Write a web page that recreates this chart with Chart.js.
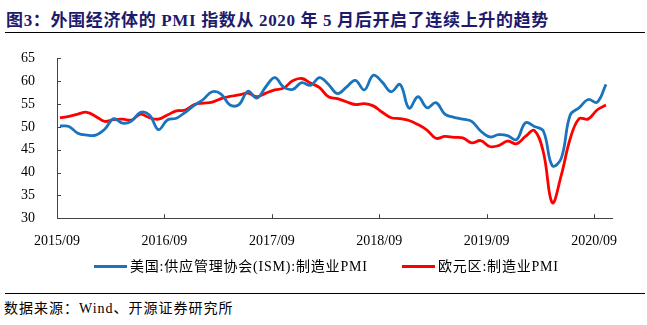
<!DOCTYPE html>
<html>
<head>
<meta charset="utf-8">
<script src="https://cdn.jsdelivr.net/npm/chart.js@4.4.0/dist/chart.umd.min.js"></script>
<style>
    body { margin: 0; background: #fff; width: 647px; height: 325px; position: relative; overflow: hidden; }
    .title { position: absolute; left: 6px; top: 6px; font: bold 17px 'Liberation Serif', 'Noto Sans CJK SC', serif; letter-spacing: 0.65px; color: #1d1a6b; white-space: nowrap; }
    .rule { position: absolute; left: 5px; width: 640px; height: 0; border-top: 1.5px solid #000; }
    .source { position: absolute; left: 4px; top: 297px; font: 14px 'Liberation Serif', 'Noto Sans CJK SC', serif; letter-spacing: 1px; color: #000; white-space: nowrap; }
    .chart-box { position: absolute; left: 0; top: 36px; width: 647px; height: 229px; }
    .legend { position: absolute; top: 258px; font: 14px 'Liberation Serif', 'Noto Sans CJK SC', serif; letter-spacing: 0.8px; color: #000; white-space: nowrap; line-height: 18px; }
    .legend i { display: inline-block; width: 33px; height: 0; border-top: 3px solid; vertical-align: middle; margin-right: 3px; position: relative; top: -1px; }
</style>
</head>
<body>
<div class="title">图3：外围经济体的 PMI 指数从 2020 年 5 月后开启了连续上升的趋势</div>
<div class="rule" style="top: 32px;"></div>
<div class="chart-box"><canvas id="pmiChart"></canvas></div>
<div id="legend"></div>
<div class="rule" style="top: 293px;"></div>
<div class="source">数据来源：Wind、开源证券研究所</div>

<script>
    // Months 2015/09 .. 2020/10
    const months = [];
    for (let y = 2015; y <= 2020; y++) {
        for (let m = 1; m <= 12; m++) {
            if ((y === 2015 && m < 9) || (y === 2020 && m > 10)) continue;
            months.push(y + '/' + String(m).padStart(2, '0'));
        }
    }

    // US ISM manufacturing PMI
    const ismPmi = [
        50.2, 50.1, 48.6, 48.2,
        48.2, 49.5, 51.8, 50.8, 51.3, 53.2, 52.6, 49.4, 51.5, 51.9, 53.2, 54.7,
        56.0, 57.7, 57.2, 54.8, 54.9, 57.8, 56.3, 58.8, 60.8, 58.7, 58.2, 59.7,
        59.1, 60.8, 59.3, 57.3, 58.7, 60.2, 58.1, 61.3, 59.8, 57.7, 59.3, 54.1,
        56.6, 54.2, 55.3, 52.8, 52.1, 51.7, 51.2, 49.1, 47.8, 48.3, 48.1, 47.2,
        50.9, 50.1, 49.1, 41.5, 43.1, 52.6, 54.2, 56.0, 55.4, 59.3
    ];

    // Eurozone manufacturing PMI
    const euroPmi = [
        52.0, 52.3, 52.8, 53.2,
        52.3, 51.2, 51.6, 51.7, 51.5, 52.8, 52.0, 51.7, 52.6, 53.5, 53.7, 54.9,
        55.2, 55.4, 56.2, 56.7, 57.0, 57.4, 56.6, 57.4, 58.1, 58.5, 60.1, 60.6,
        59.6, 58.6, 56.6, 56.2, 55.5, 54.9, 55.1, 54.6, 53.2, 52.0, 51.8, 51.4,
        50.5, 49.3, 47.5, 47.9, 47.7, 47.6, 46.5, 47.0, 45.7, 45.9, 46.9, 46.3,
        47.9, 49.2, 44.5, 33.4, 39.4, 47.4, 51.8, 51.7, 53.7, 54.8
    ];

    const xTickMonths = ['2015/09', '2016/09', '2017/09', '2018/09', '2019/09', '2020/09'];
    const yTicks = [30, 35, 40, 45, 50, 55, 60, 65];

    const tickShift = 0.33;
    const serif = "'Liberation Serif', 'Noto Sans CJK SC', serif";

    const toPoints = arr => arr.map((v, i) => ({ x: i, y: v }));

    // Short tick marks pointing into the plot area
    const innerTicks = {
        id: 'innerTicks',
        afterDraw(chart) {
            const { ctx, chartArea, scales } = chart;
            ctx.save();
            ctx.strokeStyle = '#444';
            ctx.lineWidth = 1;
            ctx.beginPath();
            scales.x.ticks.forEach(t => {
                const px = Math.round(scales.x.getPixelForValue(t.value)) + 0.5;
                ctx.moveTo(px, chartArea.bottom);
                ctx.lineTo(px, chartArea.bottom - 4);
            });
            scales.y.ticks.forEach(t => {
                const py = Math.round(scales.y.getPixelForValue(t.value)) + 0.5;
                ctx.moveTo(chartArea.left, py);
                ctx.lineTo(chartArea.left + 4, py);
            });
            ctx.stroke();
            ctx.restore();
        }
    };

    const chart = new Chart(document.getElementById('pmiChart'), {
        type: 'line',
        data: {
            datasets: [{
                label: '美国:供应管理协会(ISM):制造业PMI',
                data: toPoints(ismPmi),
                borderColor: '#1a73bd',
                backgroundColor: '#1a73bd',
                borderWidth: 2.8,
                tension: 0.4,
                pointRadius: 0
            }, {
                label: '欧元区:制造业PMI',
                data: toPoints(euroPmi),
                borderColor: '#ff0000',
                backgroundColor: '#ff0000',
                borderWidth: 2.8,
                tension: 0.4,
                pointRadius: 0
            }]
        },
        options: {
            responsive: true,
            maintainAspectRatio: false,
            animation: false,
            layout: { padding: { left: 7, right: 35, top: 10, bottom: 8 } },
            plugins: {
                legend: { display: false },
                tooltip: { enabled: false }
            },
            scales: {
                x: {
                    type: 'linear',
                    min: -tickShift,
                    max: months.length - tickShift,
                    grid: { display: false },
                    border: { display: true, color: '#444', width: 1 },
                    afterBuildTicks: axis => {
                        axis.ticks = xTickMonths.map(m => ({ value: months.indexOf(m) - tickShift }));
                    },
                    ticks: {
                        autoSkip: false,
                        maxRotation: 0,
                        padding: 7,
                        color: '#000',
                        font: { family: serif, size: 14 },
                        callback: v => months[Math.round(v + tickShift)]
                    }
                },
                y: {
                    min: yTicks[0],
                    max: yTicks[yTicks.length - 1],
                    grid: { display: false },
                    border: { display: true, color: '#444', width: 1 },
                    afterBuildTicks: axis => {
                        axis.ticks = yTicks.map(v => ({ value: v }));
                    },
                    ticks: {
                        autoSkip: false,
                        padding: 14,
                        color: '#000',
                        font: { family: serif, size: 14 }
                    }
                }
            }
        },
        plugins: [innerTicks]
    });

    // Legend built from the dataset labels and colours
    const legendLeft = [94, 402];
    const legendBox = document.getElementById('legend');
    chart.data.datasets.forEach((ds, i) => {
        const item = document.createElement('div');
        item.className = 'legend';
        item.style.left = legendLeft[i] + 'px';
        item.innerHTML = '<i style="color:' + ds.borderColor + '"></i>' + ds.label;
        legendBox.appendChild(item);
    });
</script>
</body>
</html>
